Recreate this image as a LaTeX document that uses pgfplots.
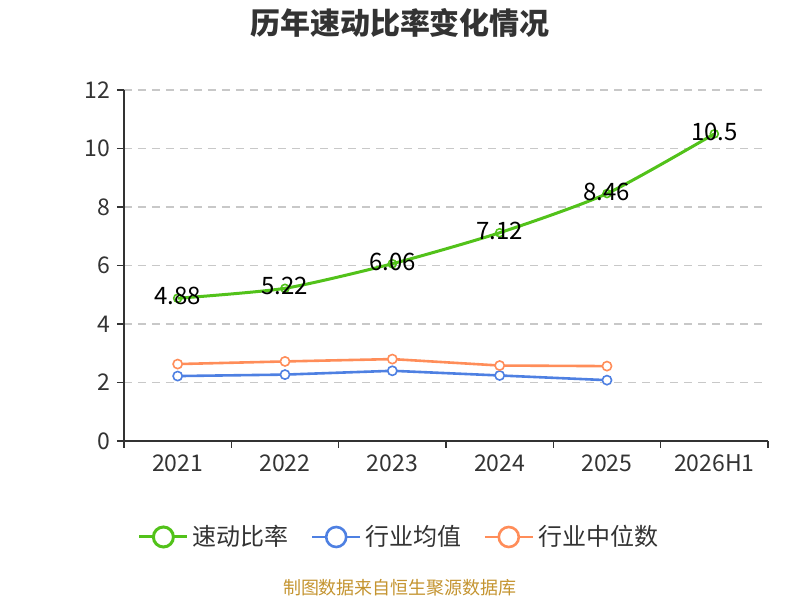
\documentclass[border=0pt]{standalone}
\usepackage{pgfplots}
\pgfplotsset{compat=1.18}
\usepackage{fontspec}
\setmainfont{Noto Sans CJK SC}
\definecolor{cgreen}{RGB}{82,194,26}
\definecolor{cblue}{RGB}{78,128,226}
\definecolor{corange}{RGB}{255,141,89}
\definecolor{ctext}{RGB}{51,51,51}
\definecolor{csrc}{RGB}{196,148,48}
\definecolor{cgrid}{RGB}{200,200,200}
\begin{document}
\begin{tikzpicture}
\path[use as bounding box] (0,0) rectangle (400pt,300pt);
\node[font=\bfseries\fontsize{15}{17}\selectfont, text=ctext] at (200pt,288.5pt) {历年速动比率变化情况};
\begin{axis}[
  at={(62pt,79.5pt)}, anchor=south west,
  scale only axis, width=322pt, height=175.5pt,
  clip=false,
  xmin=-0.5, xmax=5.5, ymin=0, ymax=12,
  axis x line*=bottom, axis y line*=left,
  axis line style={ctext, line width=0.8pt},
  tick align=outside, tick style={ctext, line width=0.8pt},
  major tick length=3.5pt,
  xtick={-0.5,0.5,...,5.5},
  x tick label as interval,
  xticklabels={2021,2022,2023,2024,2025,2026H1},
  ytick={0,2,...,12},
  ymajorgrids, grid style={cgrid, dashed, dash pattern=on 4pt off 3pt, line width=0.6pt},
  tick label style={font=\fontsize{11.5}{13}\selectfont, text=ctext},
  /pgf/number format/assume math mode=true,
  legend style={at={(0.4286,-0.2735)}, anchor=center, draw=none, legend columns=3,
    font=\fontsize{12}{14}\selectfont, text=ctext,
    /tikz/every even column/.append style={column sep=9pt}},
  legend image code/.code={
    \draw[#1, mark=none] (0pt,0pt) -- (24pt,0pt);
    \draw[#1, mark=none, fill=white] (12pt,0pt) circle (5pt);
  },
]
\addplot[cgreen, line width=1.5pt, smooth, tension=0.4, mark=o, mark size=2pt, mark options={fill=white, line width=0.8pt},
  nodes near coords, point meta=explicit symbolic,
  every node near coord/.style={anchor=center, yshift=1pt, font=\fontsize{12}{14}\selectfont, text=black}]
  table[meta=l] {
x y l
0 4.88 4.88
1 5.22 5.22
2 6.06 6.06
3 7.12 7.12
4 8.46 8.46
5 10.5 10.5
};
\addlegendentry{速动比率}
\addplot[cblue, line width=1.3pt, mark=*, mark size=2.3pt, mark options={fill=white, line width=0.8pt}]
  coordinates {(0,2.22) (1,2.27) (2,2.40) (3,2.24) (4,2.08)};
\addlegendentry{行业均值}
\addplot[corange, line width=1.3pt, mark=*, mark size=2.3pt, mark options={fill=white, line width=0.8pt}]
  coordinates {(0,2.63) (1,2.72) (2,2.80) (3,2.58) (4,2.56)};
\addlegendentry{行业中位数}
\end{axis}
\node[font=\fontsize{9}{11}\selectfont, text=csrc] at (200pt,6pt) {制图数据来自恒生聚源数据库};
\end{tikzpicture}
\end{document}
